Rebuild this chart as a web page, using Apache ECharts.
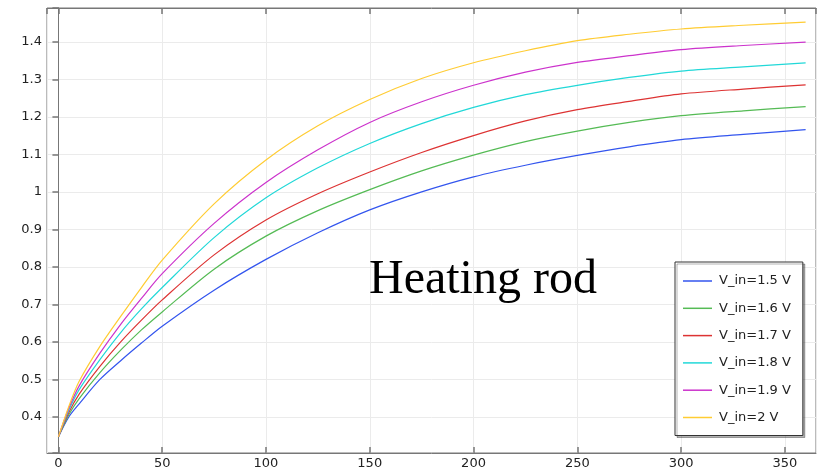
<!DOCTYPE html>
<html>
<head>
<meta charset="utf-8">
<script src="https://cdn.jsdelivr.net/npm/echarts@6/dist/echarts.min.js"></script>
<style>
html,body{margin:0;padding:0;background:#fff;}
#chart{width:823px;height:472px;}
</style>
</head>
<body>
<div id="chart"></div>
<script>
const tValues = [0, 5, 10, 20, 30, 40, 50, 75, 100, 125, 150, 175, 200, 225, 250, 275, 300, 330, 360];
const seriesNames = ['V_in=1.5 V', 'V_in=1.6 V', 'V_in=1.7 V', 'V_in=1.8 V', 'V_in=1.9 V', 'V_in=2 V'];
const v15 = [0.347, 0.400, 0.435, 0.500, 0.550, 0.597, 0.642, 0.738, 0.820, 0.891, 0.952, 1.000, 1.040, 1.071, 1.097, 1.120, 1.139, 1.153, 1.166];
const v16 = [0.347, 0.406, 0.449, 0.518, 0.578, 0.632, 0.680, 0.794, 0.882, 0.950, 1.006, 1.056, 1.098, 1.134, 1.162, 1.185, 1.203, 1.216, 1.227];
const v17 = [0.347, 0.412, 0.461, 0.535, 0.600, 0.658, 0.712, 0.832, 0.925, 0.995, 1.053, 1.105, 1.150, 1.189, 1.219, 1.241, 1.261, 1.274, 1.285];
const v18 = [0.347, 0.418, 0.473, 0.553, 0.625, 0.688, 0.745, 0.878, 0.984, 1.064, 1.129, 1.182, 1.225, 1.259, 1.284, 1.305, 1.322, 1.333, 1.344];
const v19 = [0.347, 0.423, 0.483, 0.570, 0.647, 0.716, 0.782, 0.916, 1.025, 1.112, 1.185, 1.240, 1.284, 1.319, 1.345, 1.363, 1.379, 1.390, 1.399];
const v20 = [0.347, 0.428, 0.495, 0.588, 0.668, 0.745, 0.818, 0.968, 1.085, 1.176, 1.246, 1.302, 1.344, 1.376, 1.403, 1.420, 1.434, 1.444, 1.4525];
const seriesValues = [v15, v16, v17, v18, v19, v20];
const colors = ['#3355ee', '#55bb55', '#dd3333', '#22d8d8', '#cc33cc', '#ffcc33'];
const annotation = 'Heating rod';

const chart = echarts.init(document.getElementById('chart'), null, {renderer: 'canvas'});
const fontFam = '"DejaVu Sans", sans-serif';
const gridCol = '#ebebeb';
const axisCol = '#777';

const series = seriesNames.map((name, i) => ({
  name: name,
  type: 'line',
  xAxisIndex: 0,
  yAxisIndex: 0,
  data: tValues.map((t, j) => [t, seriesValues[i][j]]),
  showSymbol: false,
  symbol: 'none',
  smooth: 0.3,
  lineStyle: {color: colors[i], width: 1.2},
  itemStyle: {color: colors[i]},
  animation: false,
  z: 3
}));

const xMin = -5.5, xMax = 365, yMin = 0.304, yMax = 1.49;

chart.setOption({
  animation: false,
  backgroundColor: '#fff',
  color: colors,
  grid: {left: 47, right: 7, top: 8, bottom: 19, show: true, borderColor: axisCol, borderWidth: 1, backgroundColor: 'transparent'},
  xAxis: [{
    type: 'value', min: xMin, max: xMax, splitNumber: 7, position: 'bottom',
    axisLine: {show: true, lineStyle: {color: axisCol, width: 1}},
    axisTick: {show: true, inside: true, length: 6, lineStyle: {color: axisCol, width: 1.5}},
    axisLabel: {show: true, margin: 4, fontSize: 13, fontFamily: fontFam, color: '#222', showMinLabel: false, showMaxLabel: false},
    splitLine: {show: true, lineStyle: {color: gridCol, width: 1}}
  }, {
    type: 'value', min: xMin, max: xMax, splitNumber: 7, position: 'top',
    axisLine: {show: true, lineStyle: {color: axisCol, width: 1}},
    axisTick: {show: true, inside: true, length: 6, lineStyle: {color: axisCol, width: 1.5}},
    axisLabel: {show: false},
    splitLine: {show: false}
  }],
  yAxis: [{
    type: 'value', min: yMin, max: yMax, splitNumber: 12, position: 'left',
    axisLine: {show: true, lineStyle: {color: axisCol, width: 1}},
    axisTick: {show: false},
    axisLabel: {show: true, margin: 5, fontSize: 13, fontFamily: fontFam, color: '#222', showMinLabel: false, showMaxLabel: false},
    splitLine: {show: true, lineStyle: {color: gridCol, width: 1}}
  }, {
    type: 'value', min: yMin, max: yMax, splitNumber: 12, position: 'right',
    axisLine: {show: true, lineStyle: {color: axisCol, width: 1}},
    axisTick: {show: true, inside: true, length: 6, lineStyle: {color: axisCol, width: 1.5}},
    axisLabel: {show: false},
    splitLine: {show: false}
  }],
  legend: {
    show: true,
    orient: 'vertical',
    left: 675, top: 262,
    data: seriesNames,
    icon: 'rect',
    itemWidth: 29, itemHeight: 1.5,
    itemGap: 11.3,
    padding: [11, 12, 10, 8],
    backgroundColor: '#fff',
    borderColor: '#333', borderWidth: 1, borderRadius: 0,
    shadowColor: 'rgba(0,0,0,0.3)', shadowBlur: 0, shadowOffsetX: 2, shadowOffsetY: 2,
    textStyle: {fontSize: 13, fontFamily: fontFam, color: '#222', lineHeight: 16, padding: [0, 0, 0, 2]}
  },
  graphic: [{
    type: 'text',
    left: 369, top: 256,
    z: 10,
    style: {text: annotation, font: '48px "Liberation Serif", "Times New Roman", serif', fill: '#000'}
  }],
  series: series
});
</script>
</body>
</html>
